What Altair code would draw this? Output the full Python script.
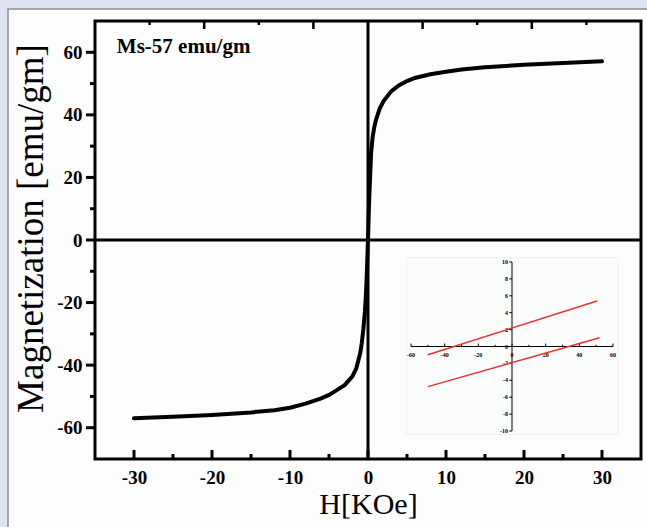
import altair as alt
import pandas as pd

# ---------------- data ----------------
H = [-30, -25, -20, -15, -12, -10, -8, -6, -5, -4, -3, -2, -1.5, -1, -0.8, -0.6, -0.4, -0.3, -0.2, -0.1,
     0, 0.1, 0.2, 0.3, 0.4, 0.6, 0.8, 1, 1.5, 2, 3, 4, 5, 6, 8, 10, 12, 15, 20, 25, 30]
M = [-57.0, -56.5, -55.9, -55.1, -54.4, -53.6, -52.3, -50.6, -49.5, -48.0, -46.4, -43.6, -41.0, -36.2, -33.0, -28.6, -23.0, -19.0, -14.0, -7.0,
     0, 9.0, 16.0, 22.0, 28.0, 33.0, 36.0, 38.2, 42.0, 44.4, 47.6, 49.5, 50.8, 51.8, 53.0, 53.8, 54.5, 55.2, 56.0, 56.6, 57.1]

x_major = [-30, -20, -10, 0, 10, 20, 30]
x_minor = [-25, -15, -5, 5, 15, 25]
y_major = [-60, -40, -20, 0, 20, 40, 60]
y_minor = [-50, -30, -10, 10, 30, 50]
top_long = [-21, -7, 7, 21]
top_short = [-28, -14, 14, 28]

annot_text = ["Ms-57 emu/gm"]
annot_h = [-32.2]
annot_m = [61.7]

# inset (two linear branches)
inset_series = ["upper", "upper", "lower", "lower"]
inset_h = [-50, 50.5, -50, 52]
inset_m = [-0.98, 5.38, -4.75, 1.03]
inset_x_major = [-60, -40, -20, 0, 20, 40, 60]
inset_x_minor = [-50, -30, -10, 10, 30, 50]
inset_y_major = [-10, -8, -6, -4, -2, 0, 2, 4, 6, 8, 10]

# ---------------- layout ----------------
W, HT = 546, 438
SERIF = "Liberation Serif"
HYPHEN = "replace(datum.label, '\u2212', '-')"

xs = alt.Scale(domain=[-35, 35], nice=False, zero=False)
ys = alt.Scale(domain=[-70, 70], nice=False, zero=False)

XAXIS = alt.Axis(values=x_major, title="H[KOe]", ticks=False, tickSize=0, domain=False, grid=False,
                 labelFont=SERIF, labelFontWeight="bold", labelFontSize=19, labelColor="black",
                 labelPadding=9, labelBaseline="top", labelExpr=HYPHEN,
                 titleFont=SERIF, titleFontWeight="normal", titleFontSize=30, titleColor="black",
                 titleBaseline="alphabetic", titleY=54, titleX=W / 2, zindex=2)
YAXIS = alt.Axis(values=y_major, title="Magnetization [emu/gm]", ticks=False, tickSize=0, domain=False, grid=False,
                 labelFont=SERIF, labelFontWeight="bold", labelFontSize=19, labelColor="black",
                 labelPadding=13, labelBaseline="middle", labelExpr=HYPHEN,
                 titleFont=SERIF, titleFontWeight="normal", titleFontSize=37, titleColor="black",
                 titleAngle=-90, titleBaseline="alphabetic", titleAlign="center",
                 titleX=-53, titleY=207, zindex=2)


def X(field="H"):
    return alt.X(f"{field}:Q", scale=xs, axis=XAXIS)


def Y(field="M"):
    return alt.Y(f"{field}:Q", scale=ys, axis=YAXIS)


one = pd.DataFrame({"a": [0]})

panel = alt.Chart(one).mark_rect(fill="#fdfdfe", stroke="#8f8f8f", strokeWidth=1.5).encode(
    x=alt.value(-87), x2=alt.value(W + 20), y=alt.value(-12), y2=alt.value(HT + 80)
)

curve_df = pd.DataFrame({"H": H, "M": M, "i": list(range(len(H)))})
curve = alt.Chart(curve_df).mark_line(color="black", strokeWidth=4, strokeCap="round").encode(
    x=X(), y=Y(), order="i:Q")

zero_v = alt.Chart(pd.DataFrame({"H": [0]})).mark_rule(color="black", strokeWidth=3).encode(
    x=X(), y=alt.value(0), y2=alt.value(HT))
zero_h = alt.Chart(pd.DataFrame({"M": [0]})).mark_rule(color="black", strokeWidth=3).encode(
    y=Y(), x=alt.value(0), x2=alt.value(W))


def xtick(vals, y0, y1, w=3):
    return alt.Chart(pd.DataFrame({"H": vals})).mark_rule(color="black", strokeWidth=w).encode(
        x=X(), y=alt.value(y0), y2=alt.value(y1))


def ytick(vals, x0, x1, w=3):
    return alt.Chart(pd.DataFrame({"M": vals})).mark_rule(color="black", strokeWidth=w).encode(
        y=Y(), x=alt.value(x0), x2=alt.value(x1))


ticks = [
    xtick(x_major, HT, HT - 9), xtick(x_minor, HT, HT - 5),
    xtick(top_long, 0, 8, 2.5), xtick(top_short, 0, 4, 2.5),
    ytick(y_major, -9, 0), ytick(y_minor, -5, 0),
]

annot = alt.Chart(pd.DataFrame({"t": annot_text, "H": annot_h, "M": annot_m})).mark_text(
    font=SERIF, fontWeight="bold", fontSize=21, align="left", baseline="middle", color="black").encode(
    x=X(), y=Y(), text="t:N")

frame = alt.Chart(one).mark_rect(fillOpacity=0, stroke="black", strokeWidth=3).encode(
    x=alt.value(0), x2=alt.value(W), y=alt.value(0), y2=alt.value(HT))

main = alt.layer(panel, curve, zero_v, zero_h, *ticks, annot, frame)

# ---------------- inset ----------------
ixs = alt.Scale(domain=[-60, 60], range=[316, 518], nice=False, zero=False)
iys = alt.Scale(domain=[-10, 10], range=[410, 241], nice=False, zero=False)

ibg = alt.Chart(one).mark_rect(fill="#fbfcfc", stroke="#efefef", strokeWidth=1).encode(
    x=alt.datum(-62.5, scale=ixs, axis=None), x2=alt.datum(63),
    y=alt.datum(-10.4, scale=iys, axis=None), y2=alt.datum(10.5))

iax_x = alt.Chart(one).mark_rule(color="black", strokeWidth=1).encode(
    x=alt.datum(-60, scale=ixs, axis=None), x2=alt.datum(60), y=alt.datum(0, scale=iys, axis=None))
iax_y = alt.Chart(one).mark_rule(color="black", strokeWidth=1).encode(
    y=alt.datum(-10, scale=iys, axis=None), y2=alt.datum(10), x=alt.datum(0, scale=ixs, axis=None))

ixt_major = alt.Chart(pd.DataFrame({"h": inset_x_major})).mark_rule(color="black", strokeWidth=1).encode(
    x=alt.X("h:Q", scale=ixs, axis=None), y=alt.datum(0, scale=iys, axis=None), y2=alt.datum(0.35))
ixt_minor = alt.Chart(pd.DataFrame({"h": inset_x_minor})).mark_rule(color="black", strokeWidth=1).encode(
    x=alt.X("h:Q", scale=ixs, axis=None), y=alt.datum(0, scale=iys, axis=None), y2=alt.datum(0.2))
iyt = alt.Chart(pd.DataFrame({"m": inset_y_major})).mark_rule(color="black", strokeWidth=1).encode(
    y=alt.Y("m:Q", scale=iys, axis=None), x=alt.datum(0, scale=ixs, axis=None), x2=alt.datum(-1.6))

ixl = alt.Chart(pd.DataFrame({"h": inset_x_major, "t": [str(v) for v in inset_x_major]})).mark_text(
    font=SERIF, fontWeight="bold", fontSize=6, align="center", baseline="middle", dy=8, color="black").encode(
    x=alt.X("h:Q", scale=ixs, axis=None), y=alt.datum(0, scale=iys, axis=None), text="t:N")
iyl = alt.Chart(pd.DataFrame({"m": inset_y_major, "t": [str(v) for v in inset_y_major]})).mark_text(
    font=SERIF, fontWeight="bold", fontSize=6, align="right", baseline="middle", dx=-4, color="black").encode(
    y=alt.Y("m:Q", scale=iys, axis=None), x=alt.datum(0, scale=ixs, axis=None), text="t:N")

ilines = alt.Chart(pd.DataFrame({"s": inset_series, "h": inset_h, "m": inset_m})).mark_line(
    color="#f0302a", strokeWidth=1.4).encode(
    x=alt.X("h:Q", scale=ixs, axis=None), y=alt.Y("m:Q", scale=iys, axis=None), detail="s:N")

inset = alt.layer(ibg, iax_x, iax_y, ixt_major, ixt_minor, iyt, ixl, iyl, ilines)

chart = alt.layer(main, inset).resolve_scale(x="independent", y="independent").properties(
    width=W, height=HT,
    autosize=alt.AutoSizeParams(type="none"),
    padding={"left": 95, "top": 21, "right": 6, "bottom": 68},
    background="#dfe3f2",
).configure_view(stroke=None)

chart.save("out.html", embed_options={"renderer": "svg", "actions": False})
